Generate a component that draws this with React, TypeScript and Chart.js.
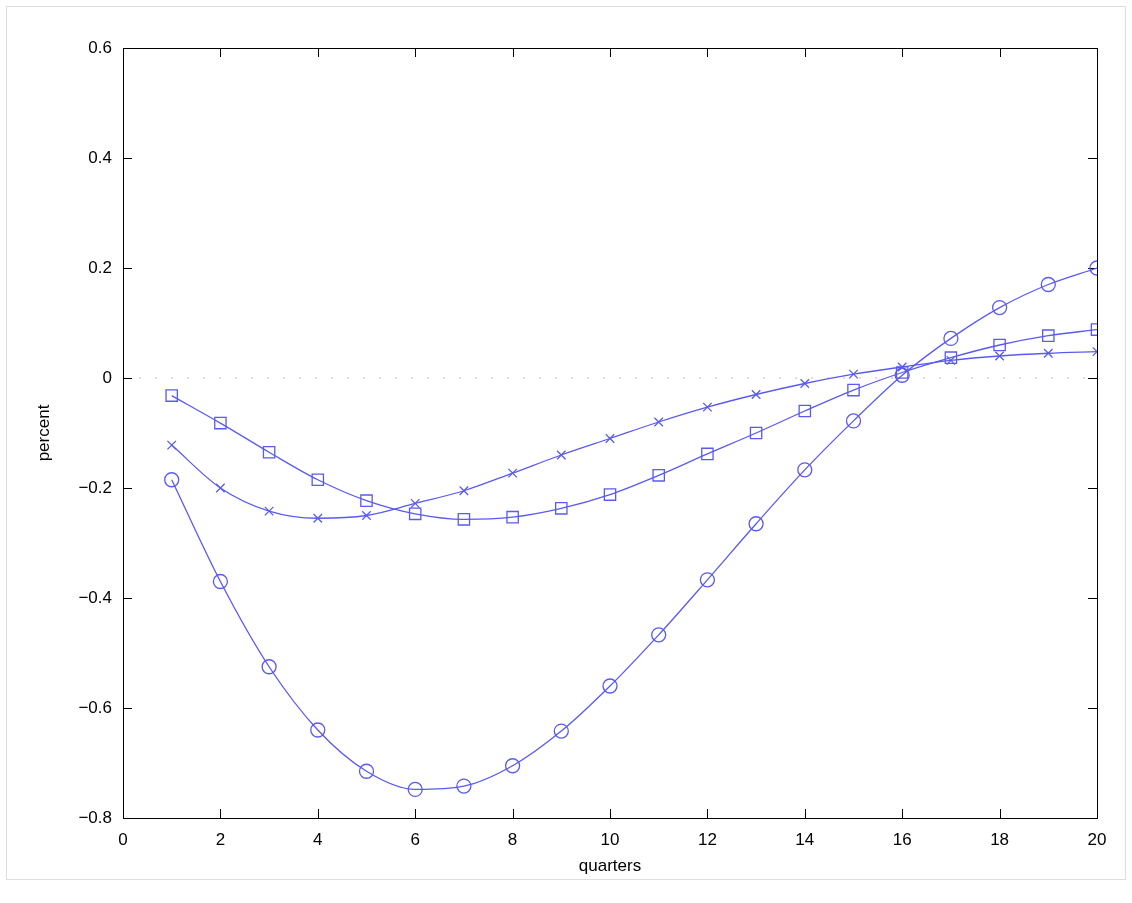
import { useEffect, useRef } from "react"
import Chart from "chart.js/auto"

const quarters = [1, 2, 3, 4, 5, 6, 7, 8, 9, 10, 11, 12, 13, 14, 15, 16, 17, 18, 19, 20]
const circleSeries = [-0.185, -0.37, -0.525, -0.64, -0.715, -0.748, -0.742, -0.705, -0.642, -0.56, -0.467, -0.367, -0.265, -0.167, -0.078, 0.005, 0.072, 0.128, 0.17, 0.2]
const squareSeries = [-0.032, -0.082, -0.135, -0.185, -0.223, -0.247, -0.257, -0.253, -0.237, -0.212, -0.177, -0.138, -0.1, -0.06, -0.022, 0.01, 0.037, 0.06, 0.077, 0.088]
const crossSeries = [-0.122, -0.2, -0.242, -0.255, -0.25, -0.228, -0.205, -0.173, -0.14, -0.11, -0.08, -0.053, -0.03, -0.01, 0.007, 0.02, 0.032, 0.04, 0.045, 0.048]

const blue = "#5a5af0"
const font = { family: "Liberation Sans, Arial, sans-serif", size: 17 }

// box, inward ticks, dotted zero line
const framePlugin = {
  id: "frame",
  beforeDatasetsDraw(chart: any) {
    const { ctx, chartArea: a, scales } = chart
    ctx.save()
    ctx.strokeStyle = "#ddd"
    ctx.lineWidth = 1
    ctx.strokeRect(6.5, 6.5, chart.width - 13, chart.height - 30)
    const y0 = scales.y.getPixelForValue(0)
    ctx.setLineDash([2, 14])
    ctx.strokeStyle = "#bbb"
    ctx.beginPath(); ctx.moveTo(a.left, y0); ctx.lineTo(a.right, y0); ctx.stroke()
    ctx.setLineDash([])
    ctx.strokeStyle = "#000"
    ctx.strokeRect(a.left + 0.5, a.top + 0.5, a.right - a.left, a.bottom - a.top)
    ctx.beginPath()
    scales.x.ticks.forEach((t: any) => {
      const x = Math.round(scales.x.getPixelForValue(t.value)) + 0.5
      ctx.moveTo(x, a.bottom); ctx.lineTo(x, a.bottom - 9)
      ctx.moveTo(x, a.top); ctx.lineTo(x, a.top + 9)
    })
    scales.y.ticks.forEach((t: any) => {
      const y = Math.round(scales.y.getPixelForValue(t.value)) + 0.5
      ctx.moveTo(a.left, y); ctx.lineTo(a.left + 9, y)
      ctx.moveTo(a.right, y); ctx.lineTo(a.right - 9, y)
    })
    ctx.stroke()
    ctx.restore()
  },
}

export default function App() {
  const ref = useRef<HTMLCanvasElement>(null)
  useEffect(() => {
    if (!ref.current) return
    document.body.style.margin = "0"
    const mk = (d: number[], style: string) => ({
      data: quarters.map((q, i) => ({ x: q, y: d[i] })),
      borderColor: blue,
      borderWidth: 1.3,
      pointStyle: style,
      pointRadius: style === "circle" ? 7 : style === "rect" ? 8 : 6,
      pointBorderColor: blue,
      pointBackgroundColor: "rgba(0,0,0,0)",
      pointBorderWidth: 1.3,
      cubicInterpolationMode: "monotone" as const,
    })
    const chart = new Chart(ref.current, {
      type: "line",
      data: {
        datasets: [mk(circleSeries, "circle"), mk(squareSeries, "rect"), mk(crossSeries, "crossRot")],
      },
      plugins: [framePlugin],
      options: {
        animation: false,
        responsive: false,
        layout: { padding: { top: 48, right: 35 } },
        plugins: { legend: { display: false }, tooltip: { enabled: false } },
        scales: {
          x: {
            type: "linear", min: 0, max: 20,
            grid: { display: false }, border: { display: false },
            ticks: { stepSize: 2, color: "#000", font, padding: 4 },
            title: { display: true, text: "quarters", color: "#000", font, padding: { top: 0, bottom: 26 } },
            afterFit: (s: any) => { s.height = 85 },
          },
          y: {
            min: -0.8, max: 0.6,
            grid: { display: false }, border: { display: false },
            ticks: { stepSize: 0.2, color: "#000", font, callback: (v: any) => (Math.abs(v) < 1e-9 ? "0" : Number(v).toFixed(1).replace("-", "\u2212")) },
            title: { display: true, text: "percent", color: "#000", font, padding: { top: 34, bottom: 0 } },
            afterFit: (s: any) => { s.width = 123 },
          },
        },
      },
    })
    return () => chart.destroy()
  }, [])
  return (
    <div style={{ width: 1132, height: 903 }}>
      <canvas ref={ref} width={1132} height={903} style={{ width: 1132, height: 903 }} />
    </div>
  )
}
